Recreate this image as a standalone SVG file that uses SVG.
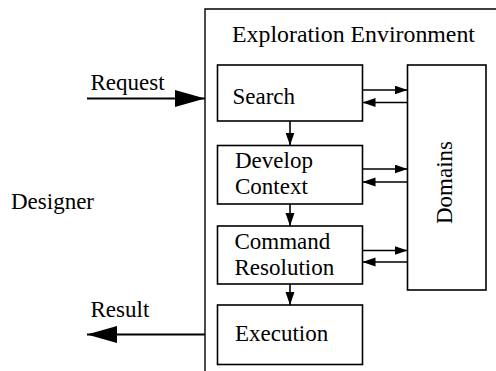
<svg xmlns="http://www.w3.org/2000/svg" width="496" height="371" viewBox="0 0 496 371" font-family="Liberation Serif, Times New Roman, serif" font-size="23">
  <defs>
    <style>
      .box { fill: #fff; stroke: #000; stroke-width: 1.6; }
      .frame { fill: none; stroke: #000; stroke-width: 1.4; }
      .link { stroke: #000; stroke-width: 1.6; fill: none; }
      .io { stroke: #000; stroke-width: 2; fill: none; }
    </style>
    <marker id="head" markerUnits="userSpaceOnUse" markerWidth="14" markerHeight="10" refX="13" refY="4.5" orient="auto">
      <path d="M0,0 L13,4.5 L0,9 Z" fill="#000"/>
    </marker>
    <marker id="bighead" markerUnits="userSpaceOnUse" markerWidth="31" markerHeight="18" refX="30" refY="8.5" orient="auto">
      <path d="M0,0 L30,8.5 L0,17 Z" fill="#000"/>
    </marker>
  </defs>
  <rect width="496" height="371" fill="#fff"/>

  <!-- environment frame, running past the right and bottom edges -->
  <g id="environment">
    <path class="frame" d="M205,380 L205,9 L500,9"/>
    <text x="232" y="41.5" textLength="243" lengthAdjust="spacingAndGlyphs">Exploration Environment</text>
  </g>

  <g id="designer">
    <text x="11" y="208.5">Designer</text>
  </g>

  <g id="search">
    <rect class="box" x="217.5" y="65" width="145" height="56"/>
    <text x="232.5" y="104">Search</text>
  </g>

  <g id="develop-context">
    <rect class="box" x="217.5" y="145.5" width="145" height="58.5"/>
    <text x="235" y="167.5">Develop</text>
    <text x="235" y="194">Context</text>
  </g>

  <g id="command-resolution">
    <rect class="box" x="217.5" y="226" width="145" height="58"/>
    <text x="234.5" y="248.5">Command</text>
    <text x="234.5" y="275">Resolution</text>
  </g>

  <g id="execution">
    <rect class="box" x="217.5" y="305" width="145" height="59.5"/>
    <text x="235" y="341">Execution</text>
  </g>

  <g id="domains">
    <rect class="box" x="407.5" y="65" width="78.5" height="225"/>
    <text transform="translate(451.5,182.5) rotate(-90)" text-anchor="middle">Domains</text>
  </g>

  <g id="connectors">
    <!-- designer in / out -->
    <line class="io" x1="87" y1="98.5" x2="205" y2="98.5" marker-end="url(#bighead)"/>
    <line class="io" x1="205" y1="334.5" x2="87" y2="334.5" marker-end="url(#bighead)"/>
    <text x="90.5" y="90">Request</text>
    <text x="90.5" y="317">Result</text>

    <!-- pipeline -->
    <line class="link" x1="290" y1="121" x2="290" y2="145.5" marker-end="url(#head)"/>
    <line class="link" x1="290" y1="204" x2="290" y2="226" marker-end="url(#head)"/>
    <line class="link" x1="290" y1="284" x2="290" y2="305" marker-end="url(#head)"/>

    <!-- exchanges with domains -->
    <line class="link" x1="362.5" y1="90" x2="407.5" y2="90" marker-end="url(#head)"/>
    <line class="link" x1="407.5" y1="102.5" x2="362.5" y2="102.5" marker-end="url(#head)"/>
    <line class="link" x1="362.5" y1="169" x2="407.5" y2="169" marker-end="url(#head)"/>
    <line class="link" x1="407.5" y1="182" x2="362.5" y2="182" marker-end="url(#head)"/>
    <line class="link" x1="362.5" y1="250.5" x2="407.5" y2="250.5" marker-end="url(#head)"/>
    <line class="link" x1="407.5" y1="262" x2="362.5" y2="262" marker-end="url(#head)"/>
  </g>
</svg>
